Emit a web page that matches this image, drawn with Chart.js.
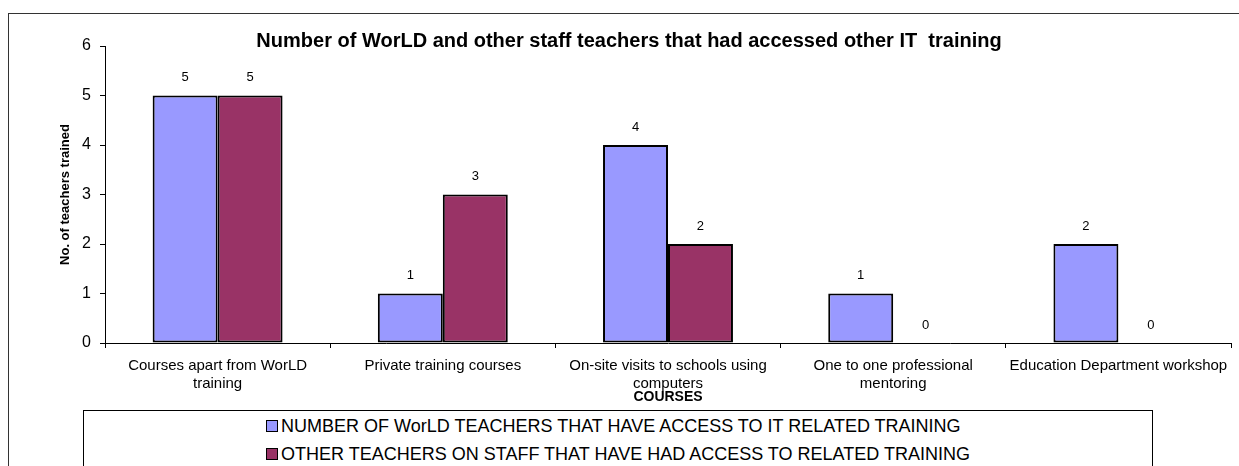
<!DOCTYPE html>
<html lang="en">
  <head>
    <meta charset="UTF-8" />
    <title>WorLD teachers - other IT training</title>
    <script src="https://cdn.jsdelivr.net/npm/chart.js"></script>
    <style>
      body {
        margin: 0;
        background: #fff;
        overflow: hidden;
        font-family: Arial, "Liberation Sans", sans-serif;
      }
      #frame {
        position: absolute;
        left: 8px;
        top: 13px;
        width: 1300px;
        height: 600px;
        border: 1px solid #333;
      }
      #chartBox {
        position: absolute;
        left: 0;
        top: 0;
        width: 1239px;
        height: 410px;
      }
      #legend {
        position: absolute;
        left: 83px;
        top: 410px;
        width: 1070px;
        height: 120px;
        box-sizing: border-box;
        border: 1px solid #000;
        text-align: center;
        padding-top: 1px;
      }
      #legend .items {
        display: inline-block;
        text-align: left;
      }
      #legend .item {
        display: flex;
        align-items: center;
        height: 28px;
        font-size: 18px;
        color: #000;
        white-space: nowrap;
      }
      #legend .swatch {
        width: 10px;
        height: 10px;
        border: 1px solid #000;
        margin-right: 3px;
      }
    </style>
  </head>
  <body>
    <div id="frame"></div>
    <div id="chartBox"><canvas id="trainingChart"></canvas></div>
    <div id="legend"><div class="items" id="legendItems"></div></div>

    <script>
      const titleText =
        "Number of WorLD and other staff teachers that had accessed other IT  training";
      const categories = [
        ["Courses apart from WorLD", "training"],
        "Private training courses",
        ["On-site visits to schools using", "computers"],
        ["One to one professional", "mentoring"],
        "Education Department workshop",
      ];
      const seriesNames = [
        "NUMBER OF WorLD TEACHERS THAT HAVE ACCESS TO IT RELATED TRAINING",
        "OTHER TEACHERS ON STAFF THAT HAVE HAD ACCESS TO RELATED TRAINING",
      ];
      const worldTeachers = [5, 1, 4, 1, 2];
      const otherTeachers = [5, 3, 2, 0, 0];
      const yMin = 0;
      const yMax = 6;
      const yStep = 1;

      const colors = ["#9999ff", "#993366"];
      const fontFamily = "Arial, 'Liberation Sans', sans-serif";

      Chart.defaults.font.family = fontFamily;
      Chart.defaults.color = "#000";

      // numbers above each bar
      const valueLabels = {
        id: "valueLabels",
        afterDatasetsDraw(chart) {
          const ctx = chart.ctx;
          ctx.save();
          ctx.font = "13px " + fontFamily;
          ctx.fillStyle = "#000";
          ctx.textAlign = "center";
          ctx.textBaseline = "middle";
          chart.data.datasets.forEach((ds, i) => {
            chart.getDatasetMeta(i).data.forEach((bar, j) => {
              ctx.fillText(ds.data[j], bar.x, bar.y - 18);
            });
          });
          ctx.restore();
        },
      };

      const ctx = document.getElementById("trainingChart").getContext("2d");
      const chart = new Chart(ctx, {
        type: "bar",
        data: {
          labels: categories,
          datasets: [
            {
              label: seriesNames[0],
              data: worldTeachers,
              backgroundColor: colors[0],
            },
            {
              label: seriesNames[1],
              data: otherTeachers,
              backgroundColor: colors[1],
            },
          ],
        },
        options: {
          responsive: true,
          maintainAspectRatio: false,
          animation: false,
          layout: { padding: { left: 27, right: 8, top: 0, bottom: 0 } },
          datasets: {
            bar: {
              categoryPercentage: 0.577,
              barPercentage: 1,
              borderColor: "#000",
              borderWidth: 2,
              borderSkipped: false,
            },
          },
          plugins: {
            legend: { display: false },
            tooltip: { enabled: false },
            title: {
              display: true,
              text: titleText,
              color: "#000",
              font: { size: 20, weight: "bold", lineHeight: 1 },
              padding: { top: 31, bottom: -5 },
            },
          },
          scales: {
            x: {
              grid: {
                drawOnChartArea: false,
                drawTicks: true,
                tickLength: 5,
                color: "#000",
              },
              border: { display: true, color: "#000", width: 1 },
              ticks: {
                font: { size: 15, lineHeight: 1.25 },
                padding: 8,
                maxRotation: 0,
                autoSkip: false,
              },
              title: {
                display: true,
                text: "COURSES",
                font: { size: 14, weight: "bold", lineHeight: 1.2 },
                padding: { top: 0, bottom: 4.6 },
              },
              afterFit(scale) {
                scale.height = 67;
              },
            },
            y: {
              min: yMin,
              max: yMax,
              grid: {
                drawOnChartArea: false,
                drawTicks: true,
                tickLength: 5,
                color: "#000",
              },
              border: { display: true, color: "#000", width: 1 },
              ticks: {
                stepSize: yStep,
                font: { size: 16 },
                padding: 9,
              },
              title: {
                display: true,
                text: "No. of teachers trained",
                font: { size: 13, weight: "bold", lineHeight: 1.2 },
                padding: { top: 31, bottom: 0 },
              },
              afterFit(scale) {
                scale.width = 78;
              },
            },
          },
        },
        plugins: [valueLabels],
      });

      // legend box below the chart
      let html = "";
      chart.data.datasets.forEach((ds) => {
        html += `<div class="item"><span class="swatch" style="background:${ds.backgroundColor}"></span>${ds.label}</div>`;
      });
      document.getElementById("legendItems").innerHTML = html;
    </script>
  </body>
</html>
